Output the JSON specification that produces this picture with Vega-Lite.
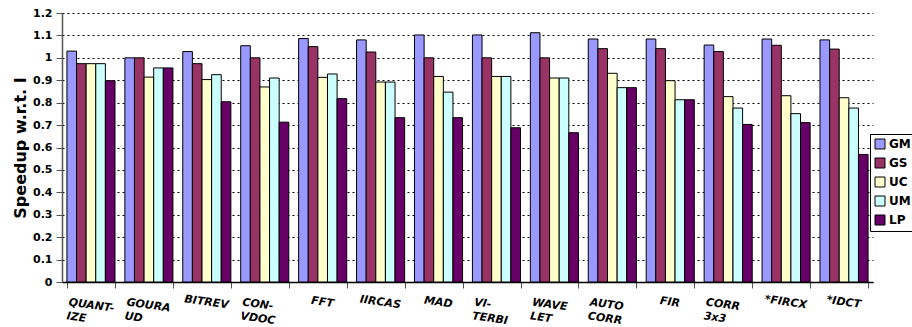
{
  "$schema": "https://vega.github.io/schema/vega-lite/v6.json",
  "autosize": {"type": "none"},
  "width": 811,
  "height": 269,
  "padding": {"left": 62, "top": 13, "right": 39, "bottom": 45},
  "background": "white",
  "config": {
    "view": {"stroke": null},
    "font": "DejaVu Sans"
  },
  "data": {
    "values": [
      {"kernel": "QUANT-|IZE", "scheme": "GM", "speedup": 1.030},
      {"kernel": "QUANT-|IZE", "scheme": "GS", "speedup": 0.974},
      {"kernel": "QUANT-|IZE", "scheme": "UC", "speedup": 0.974},
      {"kernel": "QUANT-|IZE", "scheme": "UM", "speedup": 0.974},
      {"kernel": "QUANT-|IZE", "scheme": "LP", "speedup": 0.898},
      {"kernel": "GOURA|UD", "scheme": "GM", "speedup": 1.0},
      {"kernel": "GOURA|UD", "scheme": "GS", "speedup": 1.0},
      {"kernel": "GOURA|UD", "scheme": "UC", "speedup": 0.914},
      {"kernel": "GOURA|UD", "scheme": "UM", "speedup": 0.955},
      {"kernel": "GOURA|UD", "scheme": "LP", "speedup": 0.955},
      {"kernel": "BITREV", "scheme": "GM", "speedup": 1.028},
      {"kernel": "BITREV", "scheme": "GS", "speedup": 0.974},
      {"kernel": "BITREV", "scheme": "UC", "speedup": 0.903},
      {"kernel": "BITREV", "scheme": "UM", "speedup": 0.925},
      {"kernel": "BITREV", "scheme": "LP", "speedup": 0.804},
      {"kernel": "CON-|VDOC", "scheme": "GM", "speedup": 1.054},
      {"kernel": "CON-|VDOC", "scheme": "GS", "speedup": 1.0},
      {"kernel": "CON-|VDOC", "scheme": "UC", "speedup": 0.870},
      {"kernel": "CON-|VDOC", "scheme": "UM", "speedup": 0.910},
      {"kernel": "CON-|VDOC", "scheme": "LP", "speedup": 0.713},
      {"kernel": "FFT", "scheme": "GM", "speedup": 1.086},
      {"kernel": "FFT", "scheme": "GS", "speedup": 1.050},
      {"kernel": "FFT", "scheme": "UC", "speedup": 0.913},
      {"kernel": "FFT", "scheme": "UM", "speedup": 0.928},
      {"kernel": "FFT", "scheme": "LP", "speedup": 0.818},
      {"kernel": "IIRCAS", "scheme": "GM", "speedup": 1.080},
      {"kernel": "IIRCAS", "scheme": "GS", "speedup": 1.026},
      {"kernel": "IIRCAS", "scheme": "UC", "speedup": 0.892},
      {"kernel": "IIRCAS", "scheme": "UM", "speedup": 0.892},
      {"kernel": "IIRCAS", "scheme": "LP", "speedup": 0.733},
      {"kernel": "MAD", "scheme": "GM", "speedup": 1.102},
      {"kernel": "MAD", "scheme": "GS", "speedup": 1.0},
      {"kernel": "MAD", "scheme": "UC", "speedup": 0.917},
      {"kernel": "MAD", "scheme": "UM", "speedup": 0.847},
      {"kernel": "MAD", "scheme": "LP", "speedup": 0.733},
      {"kernel": "VI-|TERBI", "scheme": "GM", "speedup": 1.102},
      {"kernel": "VI-|TERBI", "scheme": "GS", "speedup": 1.0},
      {"kernel": "VI-|TERBI", "scheme": "UC", "speedup": 0.917},
      {"kernel": "VI-|TERBI", "scheme": "UM", "speedup": 0.917},
      {"kernel": "VI-|TERBI", "scheme": "LP", "speedup": 0.688},
      {"kernel": "WAVE|LET", "scheme": "GM", "speedup": 1.112},
      {"kernel": "WAVE|LET", "scheme": "GS", "speedup": 1.0},
      {"kernel": "WAVE|LET", "scheme": "UC", "speedup": 0.910},
      {"kernel": "WAVE|LET", "scheme": "UM", "speedup": 0.910},
      {"kernel": "WAVE|LET", "scheme": "LP", "speedup": 0.666},
      {"kernel": "AUTO|CORR", "scheme": "GM", "speedup": 1.084},
      {"kernel": "AUTO|CORR", "scheme": "GS", "speedup": 1.041},
      {"kernel": "AUTO|CORR", "scheme": "UC", "speedup": 0.931},
      {"kernel": "AUTO|CORR", "scheme": "UM", "speedup": 0.867},
      {"kernel": "AUTO|CORR", "scheme": "LP", "speedup": 0.867},
      {"kernel": "FIR", "scheme": "GM", "speedup": 1.084},
      {"kernel": "FIR", "scheme": "GS", "speedup": 1.041},
      {"kernel": "FIR", "scheme": "UC", "speedup": 0.898},
      {"kernel": "FIR", "scheme": "UM", "speedup": 0.813},
      {"kernel": "FIR", "scheme": "LP", "speedup": 0.813},
      {"kernel": "CORR|3x3", "scheme": "GM", "speedup": 1.057},
      {"kernel": "CORR|3x3", "scheme": "GS", "speedup": 1.028},
      {"kernel": "CORR|3x3", "scheme": "UC", "speedup": 0.827},
      {"kernel": "CORR|3x3", "scheme": "UM", "speedup": 0.776},
      {"kernel": "CORR|3x3", "scheme": "LP", "speedup": 0.703},
      {"kernel": "*FIRCX", "scheme": "GM", "speedup": 1.084},
      {"kernel": "*FIRCX", "scheme": "GS", "speedup": 1.056},
      {"kernel": "*FIRCX", "scheme": "UC", "speedup": 0.831},
      {"kernel": "*FIRCX", "scheme": "UM", "speedup": 0.751},
      {"kernel": "*FIRCX", "scheme": "LP", "speedup": 0.711},
      {"kernel": "*IDCT", "scheme": "GM", "speedup": 1.080},
      {"kernel": "*IDCT", "scheme": "GS", "speedup": 1.039},
      {"kernel": "*IDCT", "scheme": "UC", "speedup": 0.822},
      {"kernel": "*IDCT", "scheme": "UM", "speedup": 0.776},
      {"kernel": "*IDCT", "scheme": "LP", "speedup": 0.569}
    ]
  },
  "mark": {"type": "bar", "stroke": "black", "strokeWidth": 1},
  "encoding": {
    "x": {
      "field": "kernel",
      "type": "nominal",
      "sort": null,
      "scale": {"paddingInner": 0.17, "paddingOuter": 0.085},
      "axis": {
        "title": null,
        "labelExpr": "isString(datum.value) ? split(datum.value, '|') : ''",
        "labelAngle": 8,
        "labelAlign": {"condition": {"test": "isString(datum.value) && indexof(datum.value, '|') >= 0", "value": "left"}, "value": "center"},
        "labelOffset": {"condition": {"test": "isString(datum.value) && indexof(datum.value, '|') >= 0", "value": -22}, "value": 0},
        "labelBaseline": "top",
        "labelFontWeight": "bold",
        "labelFontStyle": "italic",
        "labelFontSize": 11,
        "labelColor": "black",
        "labelLineHeight": 14,
        "labelPadding": 8,
        "tickBand": "extent",
        "tickColor": "#555",
        "tickSize": 6,
        "domainColor": "black",
        "domainWidth": 1.5,
        "grid": false
      }
    },
    "xOffset": {
      "field": "scheme",
      "type": "nominal",
      "sort": ["GM", "GS", "UC", "UM", "LP"],
      "scale": {"paddingInner": 0, "paddingOuter": 0}
    },
    "y": {
      "field": "speedup",
      "type": "quantitative",
      "scale": {"domain": [0, 1.2], "nice": false},
      "axis": {
        "title": "Speedup w.r.t. I",
        "titleFontSize": 16,
        "titleFontWeight": "bold",
        "titleColor": "black",
        "titlePadding": 4,
        "values": [0, 0.1, 0.2, 0.3, 0.4, 0.5, 0.6, 0.7, 0.8, 0.9, 1, 1.1, 1.2],
        "format": "~g",
        "labelFontWeight": "bold",
        "labelFontSize": 11,
        "labelColor": "black",
        "labelPadding": 4,
        "tickSize": 6,
        "tickColor": "#555",
        "domainColor": "#555",
        "domainWidth": 1.5,
        "grid": true,
        "gridColor": "black",
        "gridDash": [2, 3],
        "gridWidth": 1
      }
    },
    "color": {
      "field": "scheme",
      "type": "nominal",
      "sort": ["GM", "GS", "UC", "UM", "LP"],
      "scale": {
        "domain": ["GM", "GS", "UC", "UM", "LP"],
        "range": ["#9999FF", "#993366", "#FFFFCC", "#CCFFFF", "#660066"]
      },
      "legend": {
        "title": null,
        "orient": "none",
        "legendX": 808,
        "legendY": 121,
        "symbolType": "square",
        "symbolSize": 100,
        "symbolStrokeColor": "black",
        "symbolStrokeWidth": 1,
        "labelFontSize": 12,
        "labelFontWeight": "bold",
        "labelColor": "black",
        "rowPadding": 5,
        "padding": 4,
        "strokeColor": "black",
        "fillColor": "white",
        "labelOffset": 3
      }
    }
  }
}
